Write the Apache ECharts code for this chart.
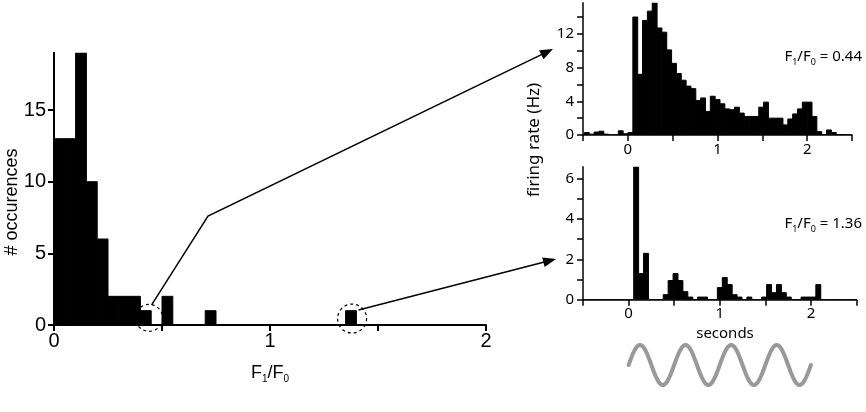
<!DOCTYPE html>
<html lang="en">
<head>
<meta charset="UTF-8">
<title>F1/F0 histogram</title>
<script src="https://cdn.jsdelivr.net/npm/echarts@6/dist/echarts.min.js"></script>
<style>
  html, body { margin: 0; background: #fff; }
  #chart { width: 866px; height: 412px; }
</style>
</head>
<body>
<div id="chart"></div>
<script>
// histogram of F1/F0 ratios (bins of 0.05)
var ratioBinStart = 0;
var ratioBinWidth = 0.05;
var ratioCounts = [13, 13, 19, 10, 6, 2, 2, 2, 1, 0, 2, 0, 0, 0, 1, 0, 0, 0, 0, 0, 0, 0, 0, 0, 0, 0, 0, 1];
var ratioTicks = [0, 0.5, 1, 1.5, 2];
var ratioLabels = [0, 1, 2];
var countTicks = [0, 5, 10, 15];

// PSTHs of the two example cells
var psthBinStart = -0.484;
var psthBinWidth = 0.054;
var rateCellA = [0.3, 0.1, 0.35, 0.45, 0.1, 0, 0, 0.5, 0.15, 0.3,
  14.0, 7.2, 13.6, 14.7, 15.7, 12.7, 12.2, 10.1, 8.5, 7.3,
  6.5, 5.8, 5.5, 4.1, 4.4, 2.8, 4.6, 4.2, 3.7, 3.1,
  3.0, 3.3, 2.6, 2.2, 2.2, 2.2, 3.3, 3.9, 2.0, 2.0,
  2.0, 1.2, 1.9, 2.5, 3.1, 3.9, 3.9, 2.2, 0.4, 0.05,
  0.6, 0.3, 0.05, 0.05, 0, 0];   // F1/F0 = 0.44
var rateCellB = [0, 0, 0, 0, 0, 0, 0, 0, 0, 0,
  6.6, 1.3, 2.3, 0, 0, 0, 0.25, 0.95, 1.3, 0.95,
  0.4, 0.13, 0, 0.13, 0.13, 0, 0, 0.6, 1.1, 0.75,
  0.25, 0.13, 0, 0.13, 0, 0, 0.13, 0.75, 0.35, 0.75,
  0.35, 0.13, 0, 0, 0.13, 0.13, 0.13, 0.75, 0, 0,
  0, 0, 0, 0, 0, 0];             // F1/F0 = 1.36
var timeTicks = [-0.5, 0, 0.5, 1, 1.5, 2, 2.5];
var timeLabels = [0, 1, 2];
var rateATicks = [0, 2, 4, 6, 8, 10, 12, 14];
var rateALabels = [0, 4, 8, 12];
var rateBTicks = [0, 1, 2, 3, 4, 5, 6];
var rateBLabels = [0, 2, 4, 6];

// stimulus drawn under the time axis
var stimFreq = 2;
var stimOn = 0, stimOff = 2;

var LEFT_FONT = 'Liberation Sans';
var RIGHT_FONT = 'Noto Sans';

function bins(start, width, values) {
  return values.map(function (v, i) {
    return [start + i * width, start + (i + 1) * width, v];
  });
}

function renderBar(params, api) {
  var p0 = api.coord([api.value(0), 0]);
  var p1 = api.coord([api.value(1), api.value(2)]);
  return {
    type: 'rect',
    shape: { x: p0[0], y: p1[1], width: p1[0] - p0[0], height: p0[1] - p1[1] },
    style: { fill: '#000', stroke: '#000', lineWidth: 1 }
  };
}

function axis(opt, font, size, lw, ticks, labels, margin) {
  return Object.assign({
    type: 'value',
    axisLine: { show: true, onZero: false, lineStyle: { color: '#000', width: lw } },
    axisTick: { show: true, length: 6, lineStyle: { color: '#000', width: lw }, customValues: ticks },
    axisLabel: { color: '#000', fontFamily: font, fontSize: size, margin: margin, customValues: labels },
    splitLine: { show: false }
  }, opt);
}

var chart = echarts.init(document.getElementById('chart'));

chart.setOption({
  animation: false,
  grid: [
    { left: 54, top: 52.7, width: 432, height: 272.3 },
    { left: 583, top: 2.7, width: 269, height: 132.3 },
    { left: 583, top: 166.7, width: 273.5, height: 133 }
  ],
  xAxis: [
    axis({ gridIndex: 0, min: 0, max: 2 }, LEFT_FONT, 20, 2, ratioTicks, ratioLabels, 6),
    axis({ gridIndex: 1, min: -0.5, max: 2.5 }, RIGHT_FONT, 15, 1.5, timeTicks, timeLabels, 7),
    axis({ gridIndex: 2, min: -0.5, max: 2.5 }, RIGHT_FONT, 15, 1.5, timeTicks, timeLabels, 7)
  ],
  yAxis: [
    axis({ gridIndex: 0, min: 0, max: 19 }, LEFT_FONT, 20, 2, countTicks, countTicks, 8),
    axis({ gridIndex: 1, min: 0, max: 15.7 }, RIGHT_FONT, 15, 1.5, rateATicks, rateALabels, 9),
    axis({ gridIndex: 2, min: 0, max: 6.6 }, RIGHT_FONT, 15, 1.5, rateBTicks, rateBLabels, 9)
  ],
  series: [
    { type: 'custom', xAxisIndex: 0, yAxisIndex: 0, renderItem: renderBar, clip: true,
      encode: { x: [0, 1], y: 2 }, data: bins(ratioBinStart, ratioBinWidth, ratioCounts) },
    { type: 'custom', xAxisIndex: 1, yAxisIndex: 1, renderItem: renderBar, clip: true,
      encode: { x: [0, 1], y: 2 }, data: bins(psthBinStart, psthBinWidth, rateCellA) },
    { type: 'custom', xAxisIndex: 2, yAxisIndex: 2, renderItem: renderBar, clip: true,
      encode: { x: [0, 1], y: 2 }, data: bins(psthBinStart, psthBinWidth, rateCellB) }
  ]
});

// annotations
function arrow(points) {
  var n = points.length, tip = points[n - 1], prev = points[n - 2];
  var dx = tip[0] - prev[0], dy = tip[1] - prev[1];
  var len = Math.sqrt(dx * dx + dy * dy);
  var ux = dx / len, uy = dy / len, L = 13, W = 5;
  var bx = tip[0] - ux * L, by = tip[1] - uy * L;
  var line = points.slice(0, n - 1).concat([[bx + ux * 3, by + uy * 3]]);
  return [
    { type: 'polyline', shape: { points: line }, style: { stroke: '#000', lineWidth: 1.5, fill: null } },
    { type: 'polygon', shape: { points: [tip, [bx - uy * W, by + ux * W], [bx + uy * W, by - ux * W]] },
      style: { fill: '#000' } }
  ];
}

function ratioText(x, y, tail, size, font, align) {
  return {
    type: 'text', x: x, y: y,
    style: {
      text: '{a|F}{b|1}{a|/F}{b|0}' + (tail ? '{a|' + tail + '}' : ''),
      align: align, verticalAlign: 'middle',
      rich: {
        a: { fontSize: size, fontFamily: font, fill: '#000', lineHeight: size + 4, verticalAlign: 'middle' },
        b: { fontSize: Math.round(size * 0.58), fontFamily: font, fill: '#000', lineHeight: size + 4, verticalAlign: 'bottom' }
      }
    }
  };
}

var c1 = chart.convertToPixel({ gridIndex: 0 }, [0.44, 0.5]);
var c2 = chart.convertToPixel({ gridIndex: 0 }, [1.38, 0.45]);
var a1 = chart.convertToPixel({ gridIndex: 0 }, [0.452, 1.4]);
var a2 = chart.convertToPixel({ gridIndex: 0 }, [1.41, 1.05]);

var wave = [];
for (var t = stimOn; t <= stimOff + 1e-9; t += 0.01) {
  wave.push([chart.convertToPixel({ xAxisIndex: 2 }, t), 365 - 20 * Math.sin(2 * Math.PI * stimFreq * t)]);
}

var graphics = [
  { type: 'circle', shape: { cx: c1[0], cy: c1[1], r: 13.5 },
    style: { fill: null, stroke: '#000', lineWidth: 1.2, lineDash: [3, 3] } },
  { type: 'circle', shape: { cx: c2[0], cy: c2[1], r: 14.5 },
    style: { fill: null, stroke: '#000', lineWidth: 1.2, lineDash: [3, 3] } },
  { type: 'polyline', shape: { points: wave },
    style: { stroke: '#999', lineWidth: 4, fill: null, lineCap: 'round' } },
  { type: 'text', x: 12, y: 202, rotation: Math.PI / 2,
    style: { text: '# occurences', fontSize: 18, fontFamily: LEFT_FONT, fill: '#000', align: 'center', verticalAlign: 'middle' } },
  { type: 'text', x: 534, y: 140, rotation: Math.PI / 2,
    style: { text: 'firing rate (Hz)', fontSize: 17, fontFamily: RIGHT_FONT, fill: '#000', align: 'center', verticalAlign: 'middle' } },
  { type: 'text', x: 725, y: 334,
    style: { text: 'seconds', fontSize: 15, fontFamily: RIGHT_FONT, fill: '#000', align: 'center', verticalAlign: 'middle' } },
  ratioText(270, 373, '', 18, LEFT_FONT, 'center'),
  ratioText(862, 57, ' = 0.44', 15, RIGHT_FONT, 'right'),
  ratioText(862, 224, ' = 1.36', 15, RIGHT_FONT, 'right')
].concat(arrow([a1, [208, 216], [553, 49]]), arrow([a2, [556, 259]]));

chart.setOption({ graphic: graphics });
</script>
</body>
</html>
